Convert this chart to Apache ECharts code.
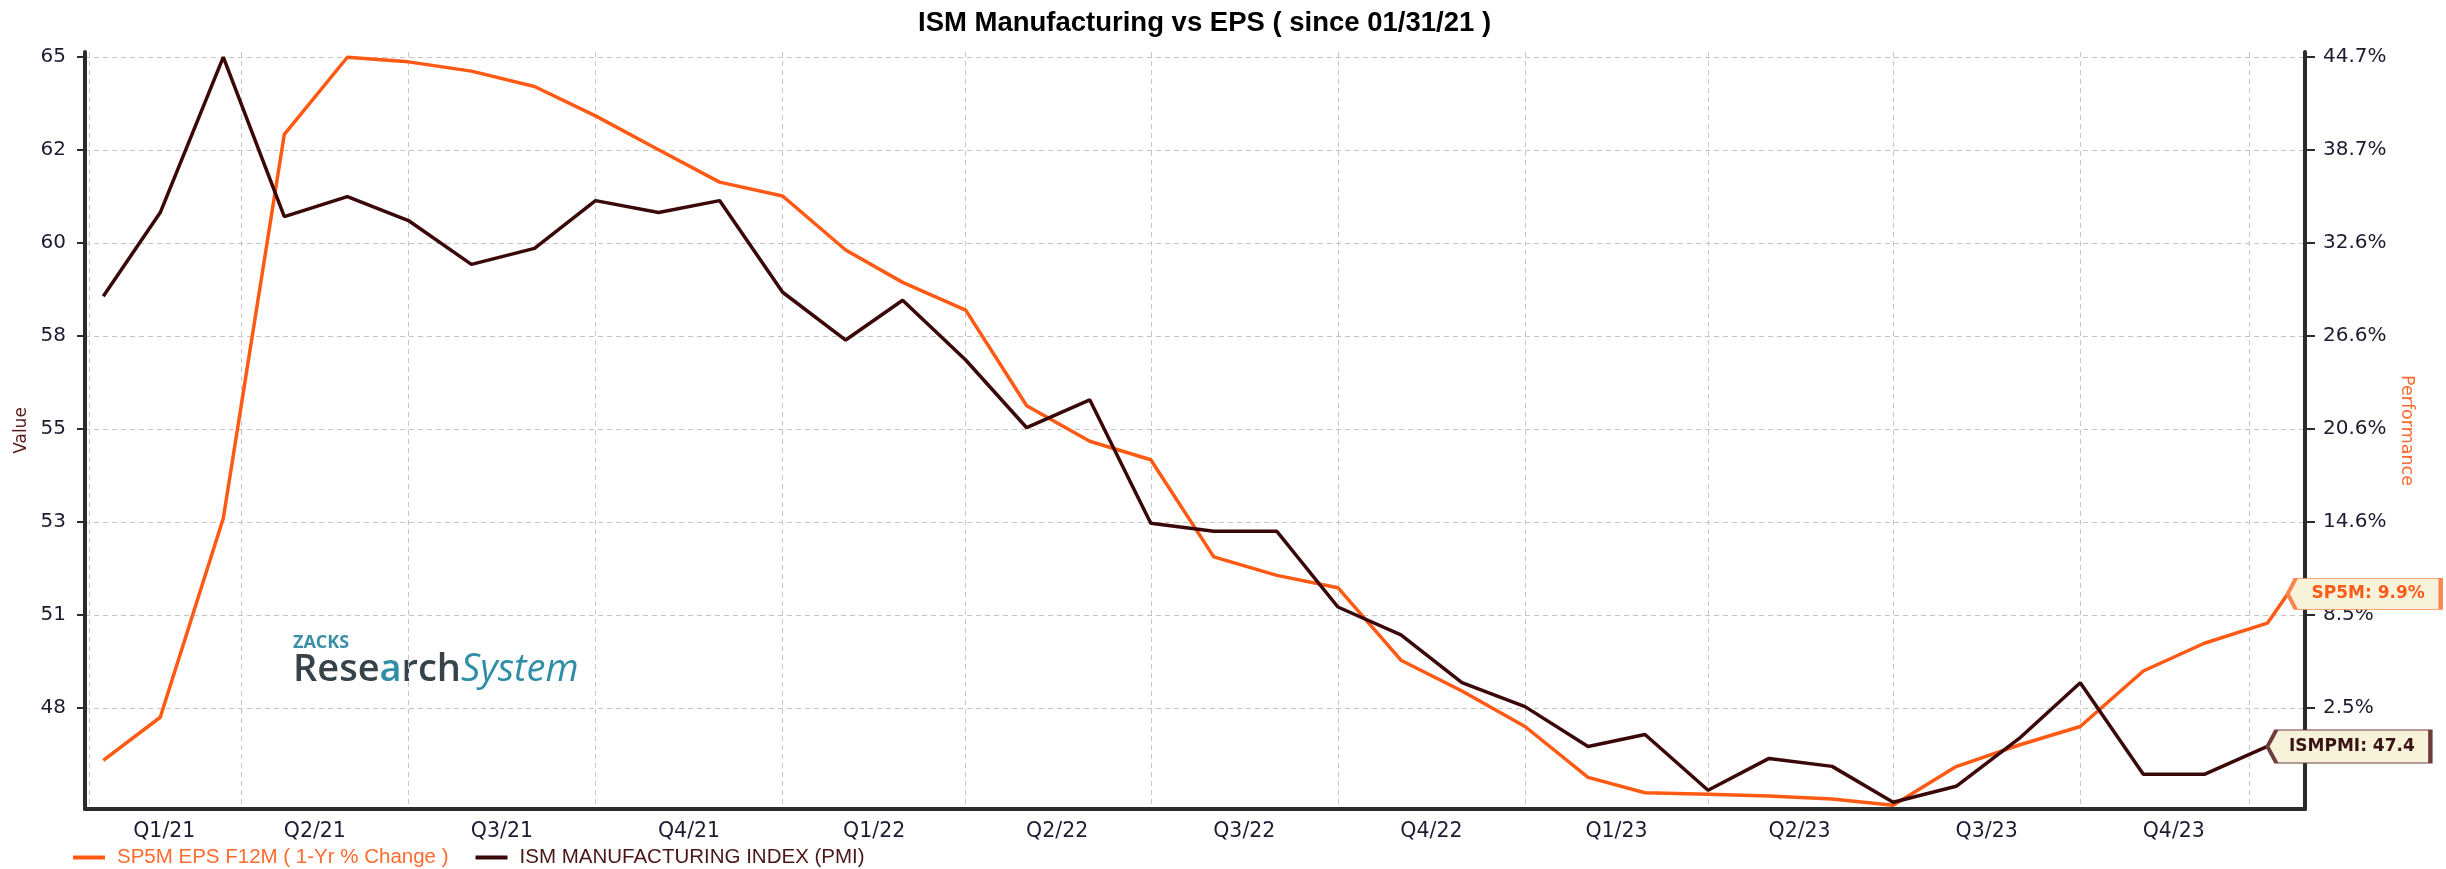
<!DOCTYPE html>
<html>
<head>
<meta charset="utf-8">
<title>ISM Manufacturing vs EPS</title>
<script src="https://cdn.jsdelivr.net/npm/echarts@6/dist/echarts.min.js"></script>
<style>
  html, body { margin: 0; padding: 0; background: #ffffff; }
  #chart { width: 2446px; height: 869px; }
</style>
</head>
<body>
<div id="chart"></div>
<script>
// Month-end observation dates
const months = [
  '2021-01-31','2021-02-28','2021-03-31','2021-04-30','2021-05-31','2021-06-30',
  '2021-07-31','2021-08-31','2021-09-30','2021-10-31','2021-11-30','2021-12-31',
  '2022-01-31','2022-02-28','2022-03-31','2022-04-30','2022-05-31','2022-06-30',
  '2022-07-31','2022-08-31','2022-09-30','2022-10-31','2022-11-30','2022-12-31',
  '2023-01-31','2023-02-28','2023-03-31','2023-04-30','2023-05-31','2023-06-30',
  '2023-07-31','2023-08-31','2023-09-30','2023-10-31','2023-11-30','2023-12-31'
];

// ISM Manufacturing Index (PMI)
const ismPmi = [
  58.7, 60.8, 64.7, 60.7, 61.2, 60.6, 59.5, 59.9, 61.1, 60.8, 61.1, 58.8,
  57.6, 58.6, 57.1, 55.4, 56.1, 53.0, 52.8, 52.8, 50.9, 50.2, 49.0, 48.4,
  47.4, 47.7, 46.3, 47.1, 46.9, 46.0, 46.4, 47.6, 49.0, 46.7, 46.7, 47.4
];

// S&P 500 EPS F12M, 1-year % change (one extra latest reading)
const epsDates = months.concat(['2024-01-10']);
const epsChange = [
  -0.9, 1.9, 14.8, 39.7, 44.7, 44.4, 43.8, 42.8, 40.9, 38.7, 36.6, 35.7,
  32.2, 30.1, 28.3, 22.1, 19.8, 18.6, 12.3, 11.1, 10.3, 5.6, 3.6, 1.3,
  -2.0, -3.0, -3.1, -3.2, -3.4, -3.8, -1.3, 0.1, 1.3, 4.9, 6.7, 8.0,
  9.9
];

// Axis ticks and their printed labels
const pmiTickValues = [64.7, 62.367, 60.033, 57.7, 55.367, 53.033, 50.7, 48.367];
const pmiTickLabels = ['65', '62', '60', '58', '55', '53', '51', '48'];
const epsTickValues = [44.7, 38.671, 32.643, 26.614, 20.586, 14.557, 8.529, 2.5];
const epsTickLabels = ['44.7%', '38.7%', '32.6%', '26.6%', '20.6%', '14.6%', '8.5%', '2.5%'];

// Quarter labels and the dates they sit on
const quarterDates = [
  '2021-03-02','2021-05-15','2021-08-15','2021-11-15',
  '2022-02-14','2022-05-15','2022-08-15','2022-11-15',
  '2023-02-14','2023-05-15','2023-08-15','2023-11-15'
];
const quarterLabels = [
  'Q1/21','Q2/21','Q3/21','Q4/21',
  'Q1/22','Q2/22','Q3/22','Q4/22',
  'Q1/23','Q2/23','Q3/23','Q4/23'
];

// Vertical grid line dates
const gridDates = [
  '2021-01-24','2021-04-09','2021-06-30','2021-09-30','2021-12-31',
  '2022-03-31','2022-06-30','2022-09-30','2022-12-31',
  '2023-03-31','2023-06-30','2023-09-30','2023-12-22'
];

// Timestamp (ms) from 'YYYY-MM-DD'
function toTs(s, hours) {
  const p = s.split('-').map(Number);
  return Date.UTC(p[0], p[1] - 1, p[2], hours || 0);
}
function labelFor(values, labels, v) {
  for (let i = 0; i < values.length; i++) {
    if (Math.abs(values[i] - v) < 1e-6) return labels[i];
  }
  return '';
}

const quarterTs = quarterDates.map(d => toTs(d));
const ismData = months.map((d, i) => [toTs(d), ismPmi[i]]);
const epsData = epsDates.map((d, i) => [toTs(d), epsChange[i]]);
const ismLast = ismData[ismData.length - 1];
const epsLast = epsData[epsData.length - 1];

const ORANGE = '#ff5a14';
const MAROON = '#3a0808';
const TICK_FONT = 'DejaVu Sans';
const gridLine = { show: true, lineStyle: { color: '#c6c6c6', width: 1, type: [5, 4] } };

const chart = echarts.init(document.getElementById('chart'), null, { renderer: 'canvas' });

chart.setOption({
  animation: false,
  backgroundColor: '#ffffff',
  title: {
    text: 'ISM Manufacturing vs EPS ( since 01/31/21 )',
    left: 918,
    top: 9,
    padding: 0,
    textStyle: { fontFamily: 'Liberation Sans', fontWeight: 'bold', fontSize: 27.5, color: '#000000' }
  },
  legend: {
    left: 73,
    top: 847,
    padding: 0,
    itemGap: 27,
    itemWidth: 32,
    itemHeight: 4,
    icon: 'rect',
    textStyle: { fontFamily: 'Liberation Sans', fontSize: 20.5, padding: [0, 0, 0, 7] },
    data: [
      { name: 'SP5M EPS F12M ( 1-Yr % Change )', textStyle: { color: '#ff6a2e' } },
      { name: 'ISM MANUFACTURING INDEX (PMI)', textStyle: { color: '#4a1616' } }
    ]
  },
  grid: { left: 85, right: 141, top: 52, bottom: 60, containLabel: false },
  xAxis: {
    // dates are carried as millisecond timestamps on a linear scale
    type: 'value',
    min: toTs('2021-01-22'),
    max: toTs('2024-01-18', 12),
    axisLine: { show: true, onZero: false, lineStyle: { color: '#2b2b2b', width: 4 } },
    axisTick: { show: false, customValues: gridDates.map(d => toTs(d)) },
    axisLabel: {
      customValues: quarterTs,
      formatter: v => labelFor(quarterTs, quarterLabels, v),
      fontFamily: TICK_FONT,
      fontSize: 20.5,
      color: '#1c1c30',
      margin: 12,
      hideOverlap: false
    },
    splitLine: gridLine
  },
  yAxis: [
    {
      type: 'value',
      position: 'left',
      min: 45.83,
      max: 64.83,
      name: 'Value',
      nameLocation: 'middle',
      nameRotate: 90,
      nameGap: 52,
      nameTextStyle: { fontFamily: TICK_FONT, fontSize: 17, color: '#5a1c1c' },
      axisLine: { show: true, onZero: false, lineStyle: { color: '#2b2b2b', width: 4 } },
      axisTick: { show: true, length: 8, customValues: pmiTickValues, lineStyle: { color: '#2b2b2b', width: 2 } },
      minorTick: { show: false },
      axisLabel: {
        customValues: pmiTickValues,
        formatter: v => labelFor(pmiTickValues, pmiTickLabels, v),
        fontFamily: TICK_FONT,
        fontSize: 20,
        color: '#1c1c30',
        margin: 19
      },
      splitLine: gridLine
    },
    {
      type: 'value',
      position: 'right',
      min: -4.05,
      max: 45.04,
      name: 'Performance',
      nameLocation: 'middle',
      nameRotate: -90,
      nameGap: 92,
      nameTextStyle: { fontFamily: TICK_FONT, fontSize: 17.5, color: '#ff6a2e' },
      axisLine: { show: true, onZero: false, lineStyle: { color: '#2b2b2b', width: 4 } },
      axisTick: { show: true, length: 10, customValues: epsTickValues, lineStyle: { color: '#2b2b2b', width: 2 } },
      minorTick: { show: false },
      axisLabel: {
        customValues: epsTickValues,
        formatter: v => labelFor(epsTickValues, epsTickLabels, v),
        fontFamily: TICK_FONT,
        fontSize: 20,
        color: '#1c1c30',
        margin: 18
      },
      splitLine: { show: false }
    }
  ],
  graphic: [
    {
      type: 'group',
      left: 284,
      top: 622,
      z: 1,
      children: [
        { type: 'rect', shape: { x: 0, y: 0, width: 312, height: 78 }, style: { fill: '#ffffff' } },
        {
          type: 'text', x: 9, y: 21,
          style: { text: 'ZACKS', font: 'bold 18px "Open Sans"', fill: '#3a8fa6', verticalAlign: 'middle' }
        },
        {
          type: 'text', x: 9, y: 48,
          style: {
            text: '{d|Rese}{t|a}{d|rch}{s|System}',
            verticalAlign: 'middle',
            rich: {
              d: { fontFamily: 'Open Sans', fontSize: 38, fontWeight: 600, fill: '#36434b' },
              t: { fontFamily: 'Open Sans', fontSize: 38, fontWeight: 600, fill: '#2f8ea6' },
              s: { fontFamily: 'Open Sans', fontSize: 38, fontWeight: 500, fill: '#2f8ea6', fontStyle: 'italic' }
            }
          }
        }
      ]
    }
  ],
  series: [
    {
      name: 'SP5M EPS F12M ( 1-Yr % Change )',
      type: 'line',
      yAxisIndex: 1,
      data: epsData,
      showSymbol: false,
      clip: false,
      color: ORANGE,
      lineStyle: { color: ORANGE, width: 3.5 },
      z: 2,
      markPoint: {
        symbol: 'path://M0,15.5L8,0L153,0L153,31L8,31Z',
        symbolSize: [153, 31],
        symbolKeepAspect: false,
        symbolOffset: [76.5, 0],
        itemStyle: { color: '#f6f3da', borderColor: '#ff8550', borderWidth: 2 },
        label: {
          show: true,
          position: 'inside',
          offset: [4, 0],
          formatter: p => 'SP5M: ' + p.value.toFixed(1) + '%',
          fontFamily: TICK_FONT,
          fontWeight: 'bold',
          fontSize: 17,
          color: '#ff5a1a'
        },
        data: [{ coord: epsLast, value: epsLast[1] }]
      }
    },
    {
      name: 'ISM MANUFACTURING INDEX (PMI)',
      type: 'line',
      yAxisIndex: 0,
      data: ismData,
      showSymbol: false,
      clip: false,
      color: MAROON,
      lineStyle: { color: MAROON, width: 3.5 },
      z: 3,
      markPoint: {
        symbol: 'path://M0,16.5L9,0L163,0L163,33L9,33Z',
        symbolSize: [163, 33],
        symbolKeepAspect: false,
        symbolOffset: [81.5, 0],
        itemStyle: { color: '#f6f3da', borderColor: '#6e3c3c', borderWidth: 2 },
        label: {
          show: true,
          position: 'inside',
          offset: [3, 0],
          formatter: p => 'ISMPMI: ' + p.value.toFixed(1),
          fontFamily: TICK_FONT,
          fontWeight: 'bold',
          fontSize: 17,
          color: '#3a1414'
        },
        data: [{ coord: ismLast, value: ismLast[1] }]
      }
    }
  ]
});
</script>
</body>
</html>
